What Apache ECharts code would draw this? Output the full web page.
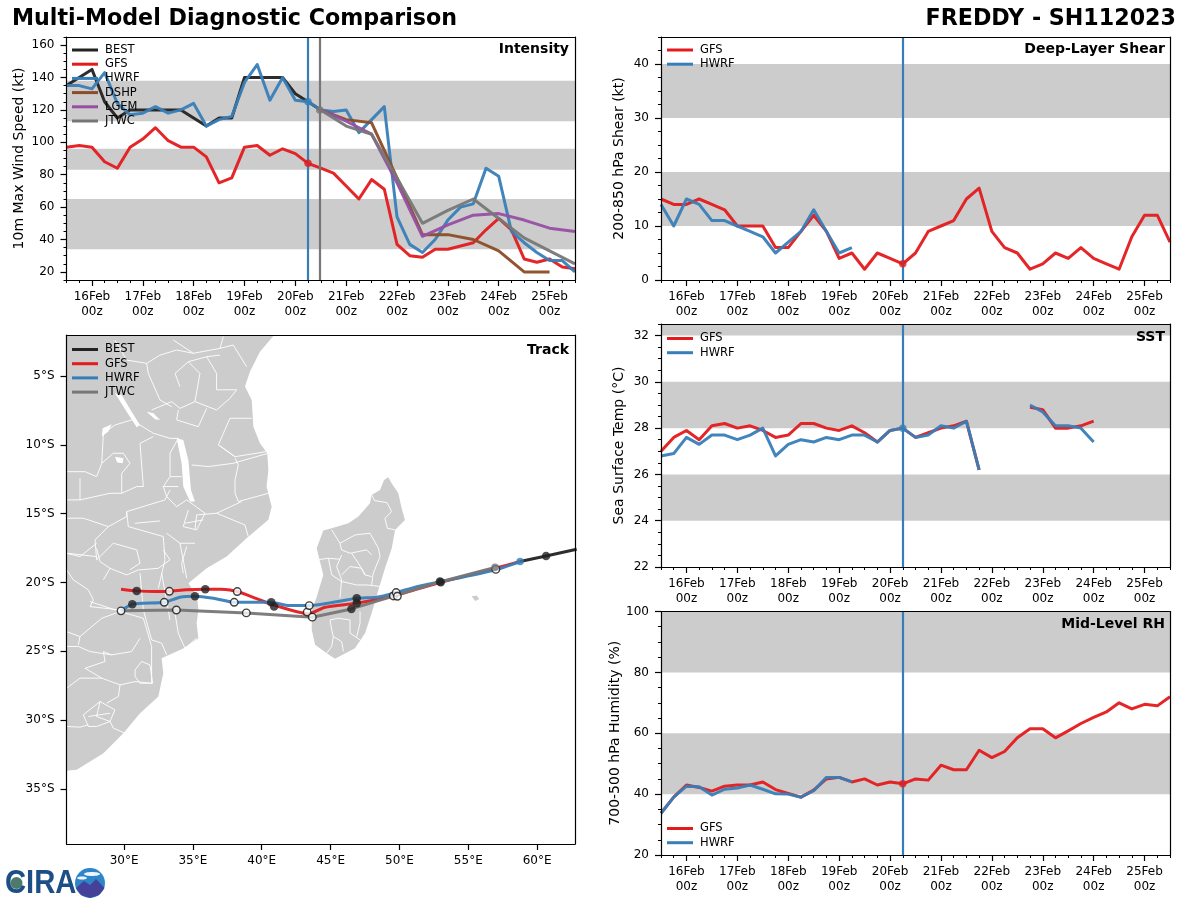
<!DOCTYPE html>
<html><head><meta charset="utf-8">
<style>html,body{margin:0;padding:0;background:#fff}#c{width:1200px;height:900px}</style>
<script src="https://cdn.jsdelivr.net/npm/echarts@6/dist/echarts.min.js"></script>
</head><body><div id="c"></div>
<script>
const DAY_LABELS=[16,17,18,19,20,21,22,23,24,25];
const COL={BEST:'#222222',GFS:'#e41a1c',HWRF:'#377eb8',DSHP:'#8c4c26',LGEM:'#984ea3',JTWC:'#777777'};
const INIT_TIME=20.25, JTWC_INIT_TIME=20.48;

// Intensity
const BEST_START=15.5;
const BEST_VMAX=[135,140,145,125,115,120,120,120,120,120,115,110,115,115,140,140,140,140,130,125,120];
const GFS_VMAX=[97,98,97,88,84,97,102,109,101,97,97,91,75,78,97,98,92,96,93,87,84,81,73,65,77,71,37,30,29,34,34,36,38,46,53,46,28,26,28,23,22];
const HWRF_VMAX=[135,135,133,143,124,117,118,122,118,120,124,110,114,116,137,148,126,140,126,125,120,119,120,106,114,122,54,37,32,40,52,60,62,84,79,45,38,32,27,27,20];
const MODEL_12H_START=20.5;
const DSHP_VMAX=[120,114,112,78,43,43,40,33,20,20];
const LGEM_VMAX=[120,113,105,75,42,49,55,56,52,47,45];
const JTWC_VMAX=[120,110,105,78,50,58,65,53,41,33,25];
const VMAX_BANDS=[[34,65],[83,96],[113,138]];

// Shear
const GFS_SHEAR=[15,14,14,15,14,13,10,10,10,6,6,9,12,9,4,5,2,5,4,3,5,9,10,11,15,17,9,6,5,2,3,5,4,6,4,3,2,8,12,12,7];
const HWRF_SHEAR=[14,10,15,14,11,11,10,9,8,5,7,9,13,9,5,6];
const SHEAR_BANDS=[[10,20],[30,40]];

// SST
const GFS_SST=[27,27.6,27.9,27.5,28.1,28.2,28,28.1,27.9,27.6,27.7,28.2,28.2,28,27.9,28.1,27.8,27.4,27.9,28,27.6,27.8,28,28.1,28.3,26.2,null,null,null,28.9,28.8,28,28,28.1,28.3];
const HWRF_SST=[26.8,26.9,27.6,27.3,27.7,27.7,27.5,27.7,28,26.8,27.3,27.5,27.4,27.6,27.5,27.7,27.7,27.4,27.9,28,27.6,27.7,28.1,28,28.3,26.2,null,null,null,29,28.7,28.1,28.1,28,27.4];
const SST_BANDS=[[24,26],[28,30],[32,33]];

// RH
const GFS_RH=[33.7,39,43,42.2,41,42.6,43,43,44,41.5,40.2,39,41.3,45,45.5,44,45,43,44,43.4,45,44.6,49.5,48,48,54.4,52,54,58.5,61.5,61.5,58.5,60.8,63.2,65.2,67,70,68,69.5,69,72];
const HWRF_RH=[33.7,39,42.6,42.4,39.7,41.6,42,43,41.6,40.1,40,39,41.1,45.5,45.5,44];
const RH_BANDS=[[40,60],[80,100]];

// Track (degrees)
const BEST_LON=[62.87,60.65,58.76];
const BEST_LAT=[-17.59,-18.07,-18.48];
const GFS_LON=[58.76,56.94,53,49.56,46.9,44.6,43.38,40.84,39.87,38.22,37,35.9,34.5,33.29,32.25,30.92,29.78];
const GFS_LAT=[-18.48,-18.97,-19.98,-20.98,-21.5,-21.8,-22.28,-21.63,-21.27,-20.66,-20.5,-20.49,-20.53,-20.64,-20.66,-20.61,-20.49];
const HWRF_LON=[58.76,56.94,53,51.26,49.76,48.35,46.9,43.45,42,40.69,38,36.5,35.15,34.06,32.92,30.6,29.78];
const HWRF_LAT=[-18.48,-19.09,-19.94,-20.3,-20.73,-21.07,-21.15,-21.68,-21.68,-21.44,-21.44,-21.15,-21,-21.07,-21.44,-21.58,-22.06];
const JTWC_LON=[56.94,53,49.56,46.51,43.67,38.88,33.8,29.78];
const JTWC_LAT=[-18.9,-19.94,-20.98,-21.92,-22.52,-22.21,-22,-22.06];
const DOT_00Z=[[60.65,-18.07],[53,-19.98],[46.9,-21.5],[40.9,-21.75],[35.9,-20.49],[30.92,-20.61],[46.9,-21.14],[40.69,-21.44],[35.15,-21],[30.6,-21.58],[46.51,-21.92],[52.94,-19.93]];
const DOT_12Z=[[57,-19.05],[49.56,-20.98],[43.3,-22.15],[38.22,-20.66],[33.29,-20.64],[49.76,-20.73],[49.85,-21.0],[43.45,-21.68],[38,-21.44],[32.92,-21.44],[29.78,-22.06],[43.67,-22.52],[38.88,-22.21],[33.8,-22]];

const LAND=[
 [[25.82,-2.02],[40.9,-2.02],[39.87,-3.23],[39.14,-4.69],[38.78,-5.77],[39.27,-6.74],[39.39,-8.68],[39.87,-9.89],[40.4,-10.61],[40.48,-11.82],[40.35,-13.03],[40.72,-14.49],[40.48,-15.45],[38.9,-16.79],[37.45,-18.12],[36,-18.96],[34.67,-20.05],[35.3,-21],[35.4,-22],[35.27,-22.96],[35.4,-24.05],[34.3,-24.8],[32.73,-25.5],[32.85,-26.6],[32.49,-28.28],[31.16,-29.5],[29.95,-30.95],[28.5,-32.4],[26.56,-33.6],[25.82,-33.68]],
 [[49.19,-12.36],[49.43,-12.79],[49.92,-13.52],[50.16,-14.61],[50.4,-15.46],[49.68,-16.18],[49.44,-17.51],[48.95,-18.97],[48.47,-20.54],[47.98,-22.23],[47.5,-23.68],[46.77,-24.77],[45.32,-25.55],[44.72,-25.14],[43.87,-24.53],[43.63,-23.44],[43.63,-22.11],[44,-21.02],[44.47,-19.45],[43.99,-17.51],[44.47,-16.23],[45.08,-16.06],[46.29,-15.7],[47.02,-15.21],[47.86,-14.25],[47.98,-13.64],[48.59,-13.28],[48.88,-12.55]],
 [[55.25,-21],[55.6,-20.95],[55.8,-21.2],[55.5,-21.35]]
];
const LAKES=[
 [[29.34,-6.26],[29.83,-6.38],[30.55,-7.59],[31.16,-8.56],[30.92,-8.73],[30.19,-7.59]],
 [[31.64,-7.59],[32.13,-7.71],[32.61,-8.19],[32.25,-8.15]],
 [[28.38,-9.4],[28.45,-8.8],[29.1,-8.51],[28.86,-9.04]],
 [[33.82,-9.53],[34.3,-9.65],[34.67,-11.1],[34.86,-13.28],[35.15,-14.12],[34.79,-14.12],[34.3,-13.03],[34.18,-11.34]],
 [[29.34,-10.86],[29.95,-10.98],[29.9,-11.34],[29.5,-11.29]]
];
const BORDERS=[
 [[29.34,-2.39],[30.19,-3.84],[31.64,-4.08]],
 [[33.58,-2.39],[35.03,-3.35]],[[37.21,-2.14],[36.97,-2.99]],
 [[30.55,-8.19],[29.34,-8.56],[28.5,-9.16],[28.38,-11.34],[28.01,-12.31],[27.17,-11.95],[25.83,-11.95]],
 [[28.38,-11.34],[29.22,-10.61],[29.95,-10.61],[30.43,-11.34],[29.83,-12.07],[29.83,-13.52],[30.92,-13.03],[31.4,-13.03],[31.16,-9.89],[32.13,-9.4]],
 [[26.8,-12.43],[26.8,-14],[25.83,-14]],[[26.8,-14],[28.98,-13.52],[29.83,-13.52]],
 [[30.55,-8.19],[32.13,-9.16],[33.34,-9.53],[33.94,-9.53]],
 [[31.64,-4.08],[32.61,-3.48],[33.82,-3.11],[35.03,-3.35],[36.97,-2.99],[37.93,-2.75],[38.9,-4.32]],
 [[34.06,-5.77],[33.7,-4.81],[34.67,-3.96],[36,-3.6],[36.97,-3.48]],
 [[35.15,-6.86],[35.51,-4.81],[34.67,-3.96]],
 [[36.72,-6],[36.72,-4.81],[36,-3.6]],
 [[36.72,-7.47],[37.69,-6.62],[38.18,-6],[36.72,-6]],
 [[33.46,-7.23],[32.61,-6.74],[31.76,-4.81],[31.64,-4.08]],
 [[32,-7.47],[33.46,-6.86],[34.06,-7.35],[35.15,-6.86],[36.72,-7.47]],
 [[33.94,-7.47],[33.82,-8.19],[35.39,-8.68],[36,-7.35]],
 [[38.06,-10.86],[36.85,-10],[37.69,-8.07],[39.27,-8.07]],
 [[36.85,-10],[38.06,-10.86],[40.35,-10.49]],
 [[34.91,-11.46],[36.12,-11.58],[37.93,-11.34],[40.48,-10.61]],
 [[38.06,-10.98],[38.3,-11.46],[38.06,-12.55],[38.06,-13.52],[38.3,-14.12],[40.48,-13.52]],
 [[35.15,-16.18],[35.27,-15.09],[36.72,-14.97],[38.54,-14.12]],
 [[36.72,-14.97],[38.78,-15.82],[39.02,-16.66]],
 [[30.19,-14.85],[32.97,-14],[33.34,-13.28]],
 [[25.83,-15.33],[27.04,-15.33],[28.86,-15.94],[30.19,-15.21],[30.19,-14.85],[30.31,-15.94],[32.85,-16.66]],
 [[28.86,-15.94],[27.89,-16.91],[28.01,-18.36],[29.22,-17.15],[30.92,-17.63],[31.16,-18.6],[30.43,-19.08]],
 [[32.85,-16.66],[32.97,-18.36],[32.49,-20.42]],
 [[34.55,-19.69],[34.06,-17.15],[35.15,-17.15]],[[34.06,-17.15],[33.09,-16.42]],
 [[25.83,-17.87],[28.01,-18.12]],
 [[33.94,-9.53],[33.34,-10.61],[33.34,-12.31],[32.85,-13.03],[33.09,-13.76],[33.82,-14.49],[34.55,-14],[35.88,-14.97],[35.27,-16.18],[34.3,-15.94],[34.67,-14.73]],
 [[32.85,-13.03],[33.94,-13.03]],[[33.34,-12.31],[34.18,-12.31]],[[34.43,-15.7],[35.76,-15.45]],
 [[30.8,-15.7],[32.6,-15.53]],
 [[31.4,-22.6],[31.76,-23.81],[32,-24.65],[32,-27.32],[30.8,-27.2],[29.71,-27.44],[29.59,-28.28],[28.74,-28.77]],
 [[25.83,-27.68],[26.8,-26.95],[28.38,-26.95],[29.71,-27.44]],
 [[32,-24.17],[32.73,-24.41],[33.09,-25.26]],
 [[31.16,-24.05],[30.55,-25.02],[29.1,-25.26],[27.53,-25.02],[26.68,-24.65],[25.83,-24.65]],
 [[29.1,-25.26],[28.5,-25.02],[28.62,-25.74],[27.17,-26.23],[28.38,-26.95]],
 [[30.8,-26.35],[31.28,-25.74],[31.88,-25.99],[32.08,-27.32],[31.16,-27.32],[30.8,-26.83],[30.8,-26.35]],
 [[27.04,-29.62],[28.25,-28.65],[29.34,-29.25],[28.98,-30.1],[28.01,-30.46],[27.41,-30.46],[27.04,-29.62]],
 [[28.25,-28.65],[28.01,-29.74],[28.98,-30.1]],[[27.41,-29.74],[28.98,-29.5]],
 [[25.83,-30.46],[26.8,-30.51],[27.41,-30.34]],[[28.98,-30.1],[29.22,-30.58],[30.07,-30.95]],
 [[25.83,-23.57],[26.8,-23.93],[26.68,-24.53]],
 [[26.8,-23.93],[28.38,-22.6],[29.71,-22.11],[27.53,-21.39]],[[29.71,-22.11],[31.4,-22.6]],
 [[33.7,-22.23],[33.94,-23.69],[34.43,-24.78],[35.27,-24.05]],
 [[25.83,-17.88],[26.8,-18.12],[28.01,-17.15]],
 [[28.01,-17.52],[28.25,-18.48],[28.98,-18.97],[28.5,-19.81]],
 [[25.83,-19.09],[26.32,-19.81],[27.41,-20.54],[27.77,-21.27],[27.53,-21.75],[29.71,-22]],
 [[28.98,-18.97],[30.19,-19.45],[31.04,-19.09],[32.49,-18.97],[33.34,-18.36],[32.85,-17.64]],
 [[31.16,-19.33],[31.4,-21.99],[32,-24.17]],
 [[32.73,-19.33],[33.34,-22.72]],
 [[34.55,-17.39],[34.18,-18.6],[34.3,-19.33]],
 [[47.98,-13.64],[48.2,-14.05],[49.1,-14.2],[49.43,-14.85],[48.95,-15.34],[49.12,-16.06],[49.68,-16.18]],
 [[45.08,-16.18],[45.68,-17.15],[46.77,-16.55],[47.86,-16.42],[48.47,-17.51],[48.59,-18.12],[48.1,-19.33],[47.98,-20.18]],
 [[45.68,-17.15],[45.8,-17.63],[46.41,-17.88],[47.62,-17.63],[47.98,-18]],
 [[45.8,-18],[45.44,-18.84],[45.8,-19.81],[45.68,-21.14]],
 [[43.99,-18.36],[44.84,-18.24],[45.68,-18.31]],[[44.84,-18.24],[45.08,-19.45],[45.8,-19.93]],
 [[46.53,-17.88],[47.02,-18.6],[47.5,-19.45],[47.98,-19.57]],
 [[45.8,-19.45],[46.41,-18.84],[47.26,-18.97],[47.5,-19.45]],
 [[45.8,-19.93],[46.9,-20.18],[47.62,-20.18],[48.71,-20.3]],
 [[44.96,-22.72],[45.56,-22.6],[46.41,-22.72],[46.41,-23.68],[47.14,-24.17]],
 [[45.2,-23.93],[45.08,-24.65],[44.72,-25.14]],[[45.2,-23.93],[45.8,-24.29],[45.93,-25]],
 [[47.14,-22.11],[47.14,-22.96],[46.9,-23.93]],[[44.96,-22.72],[45.08,-23.44],[45.2,-23.93]]
];

const FONT='DejaVu Sans';
const BLACK='#000';
const axes={x:[],y:[]};
const grids=[];
const ts=(start,vals,step)=>vals.map((v,i)=>[start+i*(step||0.25),v]);
function axisPair(kind,idx,cfg){
  const isX=kind==='x';
  const base={type:'value',gridIndex:idx,min:cfg.min,max:cfg.max,scale:true,splitLine:{show:false},z:6,
    axisLine:{onZero:false}};
  const pos=isX?'bottom':'left', far=isX?'top':'right';
  const minor=Object.assign({},base,{position:pos,interval:cfg.minor,
    axisLine:{show:true,onZero:false,lineStyle:{color:BLACK,width:1.2}},
    axisTick:{show:!!cfg.minor,length:3,lineStyle:{color:BLACK,width:1}},
    axisLabel:{show:true,customValues:cfg.major,formatter:cfg.fmt,color:'#000',fontFamily:FONT,fontSize:12,lineHeight:15.5,margin:isX?(cfg.labelMargin||9):12,hideOverlap:false}});
  if(!cfg.minor){delete minor.interval;}
  if(cfg.name){minor.name=cfg.name;minor.nameLocation='middle';minor.nameGap=cfg.nameGap;
    minor.nameTextStyle={fontFamily:FONT,fontSize:14,color:'#000'};}
  const major=Object.assign({},base,{position:pos,
    axisLine:{show:false,onZero:false},axisLabel:{show:false},
    axisTick:{show:true,length:6,customValues:cfg.major,lineStyle:{color:BLACK,width:1.2}}});
  const edge=Object.assign({},base,{position:far,
    axisLine:{show:true,onZero:false,lineStyle:{color:BLACK,width:1.2}},axisLabel:{show:false},axisTick:{show:false}});
  return [minor,major,edge];
}
const dayFmt=v=>v+'Feb\n00z';
const xTimeCfg={min:15.5,max:25.5,minor:0.25,major:DAY_LABELS,fmt:dayFmt};
function addPanel(g,xc,yc){
  const i=grids.length;
  grids.push({left:g[0],top:g[1],width:g[2],height:g[3],show:false,containLabel:false});
  const xi=axes.x.length, yi=axes.y.length;
  axes.x.push(...axisPair('x',i,xc));
  axes.y.push(...axisPair('y',i,yc));
  return {xi,yi};
}
const p1=addPanel([66.5,37,508.5,243],xTimeCfg,{min:15,max:165,minor:5,major:[20,40,60,80,100,120,140,160],fmt:v=>v,name:'10m Max Wind Speed (kt)',nameGap:40});
const p2=addPanel([661,37,509,243],xTimeCfg,{min:0,max:45,minor:2.5,major:[0,10,20,30,40],fmt:v=>v,name:'200-850 hPa Shear (kt)',nameGap:35});
const p3=addPanel([66.5,335,508.5,509],{min:25.82,max:62.75,minor:0,major:[30,35,40,45,50,55,60],fmt:v=>v+'°E',labelMargin:9},{min:-39,max:-2.02,minor:0,major:[-5,-10,-15,-20,-25,-30,-35],fmt:v=>Math.abs(v)+'°S'});
const p4=addPanel([661,324,509,243],xTimeCfg,{min:22,max:32.5,minor:0.5,major:[22,24,26,28,30,32],fmt:v=>v,name:'Sea Surface Temp (°C)',nameGap:35});
const p5=addPanel([661,611.5,509,243.5],xTimeCfg,{min:20,max:100,minor:5,major:[20,40,60,80,100],fmt:v=>v,name:'700-500 hPa Humidity (%)',nameGap:35});

const series=[];
function lineS(p,name,data,extra){
  series.push(Object.assign({type:'line',name,data,xAxisIndex:p.xi,yAxisIndex:p.yi,symbol:'none',showSymbol:false,
    connectNulls:false,clip:true,z:3,
    lineStyle:{color:COL[name],width:3,opacity:0.95,cap:'butt',join:'round'},itemStyle:{color:COL[name]},animation:false},extra||{}));
}
function bands(p,list){
  series.push({type:'line',data:[],xAxisIndex:p.xi,yAxisIndex:p.yi,silent:true,z:1,
    markArea:{silent:true,z:1,itemStyle:{color:'#cccccc'},data:list.map(b=>[{yAxis:b[0]},{yAxis:b[1]}])}});
}
function vline(p,x,col,w){
  series.push({type:'line',data:[],xAxisIndex:p.xi,yAxisIndex:p.yi,silent:true,z:4,
    markLine:{silent:true,symbol:'none',z:4,animation:false,label:{show:false},lineStyle:{color:col,width:w||2.2,type:'solid',opacity:1},data:[{xAxis:x}]}});
}
function dot(p,x,y,col){
  series.push({type:'scatter',data:[[x,y]],xAxisIndex:p.xi,yAxisIndex:p.yi,symbol:'circle',symbolSize:7.5,z:5,silent:true,itemStyle:{color:col}});
}
// Intensity panel
bands(p1,VMAX_BANDS);
lineS(p1,'BEST',ts(BEST_START,BEST_VMAX));
lineS(p1,'GFS',ts(15.5,GFS_VMAX));
lineS(p1,'HWRF',ts(15.5,HWRF_VMAX));
lineS(p1,'DSHP',ts(MODEL_12H_START,DSHP_VMAX,0.5));
lineS(p1,'LGEM',ts(MODEL_12H_START,LGEM_VMAX,0.5));
lineS(p1,'JTWC',ts(MODEL_12H_START,JTWC_VMAX,0.5));
vline(p1,INIT_TIME,COL.HWRF);vline(p1,JTWC_INIT_TIME,COL.JTWC);
dot(p1,INIT_TIME,GFS_VMAX[19],COL.GFS);dot(p1,INIT_TIME,HWRF_VMAX[19],COL.HWRF);dot(p1,JTWC_INIT_TIME,JTWC_VMAX[0],COL.JTWC);
// Shear
bands(p2,SHEAR_BANDS);
lineS(p2,'GFS',ts(15.5,GFS_SHEAR));lineS(p2,'HWRF',ts(15.5,HWRF_SHEAR));
vline(p2,INIT_TIME,COL.HWRF);dot(p2,INIT_TIME,GFS_SHEAR[19],COL.GFS);
// SST
bands(p4,SST_BANDS);
lineS(p4,'GFS',ts(15.5,GFS_SST));lineS(p4,'HWRF',ts(15.5,HWRF_SST));
vline(p4,INIT_TIME,COL.HWRF);dot(p4,INIT_TIME,GFS_SST[19],COL.HWRF);
// RH
bands(p5,RH_BANDS);
lineS(p5,'GFS',ts(15.5,GFS_RH));lineS(p5,'HWRF',ts(15.5,HWRF_RH));
vline(p5,INIT_TIME,COL.HWRF);dot(p5,INIT_TIME,GFS_RH[19],COL.GFS);
// Track map
function shapeS(list,style,type,z){
  series.push({type:'custom',xAxisIndex:p3.xi,yAxisIndex:p3.yi,silent:true,z,clip:true,
    data:list.map((_,i)=>[i]),
    renderItem:(params,api)=>{
      const pts=list[api.value(0)].map(c=>api.coord(c));
      return {type,shape:{points:pts},style};
    }});
}
shapeS(LAND,{fill:'#cccccc',stroke:'none'},'polygon',1);
shapeS(LAKES,{fill:'#ffffff',stroke:'none'},'polygon',1);
shapeS(BORDERS,{fill:'none',stroke:'#ffffff',lineWidth:0.9},'polyline',1);
const zip=(a,b)=>a.map((v,i)=>[v,b[i]]);
lineS(p3,'BEST',zip(BEST_LON,BEST_LAT));
lineS(p3,'GFS',zip(GFS_LON,GFS_LAT),{smooth:0.2});
lineS(p3,'HWRF',zip(HWRF_LON,HWRF_LAT),{smooth:0.2});
lineS(p3,'JTWC',zip(JTWC_LON,JTWC_LAT));
series.push({type:'scatter',data:DOT_00Z,xAxisIndex:p3.xi,yAxisIndex:p3.yi,symbolSize:8.5,z:5,silent:true,itemStyle:{color:COL.BEST}});
series.push({type:'scatter',data:DOT_12Z,xAxisIndex:p3.xi,yAxisIndex:p3.yi,symbolSize:7.5,z:5,silent:true,itemStyle:{color:'#fff',borderColor:'#111',borderWidth:1.4}});
dot(p3,HWRF_LON[0],HWRF_LAT[0],COL.HWRF);dot(p3,JTWC_LON[0],JTWC_LAT[0],COL.JTWC);

const legend=(left,top,names)=>({left,top,orient:'vertical',data:names,icon:'rect',itemWidth:26,itemHeight:3,itemGap:1.2,selectedMode:false,padding:0,
  textStyle:{fontFamily:FONT,fontSize:11.5,color:'#000',lineHeight:13,padding:[0,0,0,2]}});
const ptitle=(text,right,top)=>({text,right,top,padding:0,textStyle:{fontFamily:FONT,fontSize:14,fontWeight:'bold',color:'#000'}});

const opt={
  animation:false,backgroundColor:'#fff',
  grid:grids,xAxis:axes.x,yAxis:axes.y,series,
  legend:[legend(72,43.5,['BEST','GFS','HWRF','DSHP','LGEM','JTWC']),legend(72,343,['BEST','GFS','HWRF','JTWC']),
    legend(667,43.5,['GFS','HWRF']),legend(667,332,['GFS','HWRF']),legend(667,822,['GFS','HWRF'])],
  title:[
    {text:'Multi-Model Diagnostic Comparison',left:12,top:8,padding:0,textStyle:{fontFamily:FONT,fontSize:22.2,fontWeight:'bold',color:'#000'}},
    {text:'FREDDY - SH112023',right:24,top:8,padding:0,textStyle:{fontFamily:FONT,fontSize:22.2,fontWeight:'bold',color:'#000'}},
    ptitle('Intensity',631,42),ptitle('Deep-Layer Shear',35,42),ptitle('Track',631,343),ptitle('SST',35,330),ptitle('Mid-Level RH',35,617)
  ],
  graphic:[
    {type:'text',x:5,y:867,scaleX:0.86,style:{text:'CIRA',fontFamily:'Liberation Sans',fontWeight:'bold',fontSize:34,fill:'#1d4f86'}},
    {type:'circle',shape:{cx:16.5,cy:883,r:6},style:{fill:'#4d7a6a'}},
    {type:'circle',shape:{cx:90,cy:883,r:15},style:{fill:'#2c86c9'}},
    {type:'polygon',shape:{points:[[76,888],[84,881],[90,885],[96,879],[104.5,888],[99,895],[90,898],[81,895]]},style:{fill:'#45409a'}},
    {type:'ellipse',shape:{cx:92,cy:874,rx:8,ry:2},style:{fill:'#eef6fb'}},
    {type:'ellipse',shape:{cx:82,cy:878,rx:5,ry:1.5},style:{fill:'#eef6fb'}}
  ]
};
const chart=echarts.init(document.getElementById('c'),null,{renderer:'canvas',width:1200,height:900});
chart.setOption(opt);
</script></body></html>
